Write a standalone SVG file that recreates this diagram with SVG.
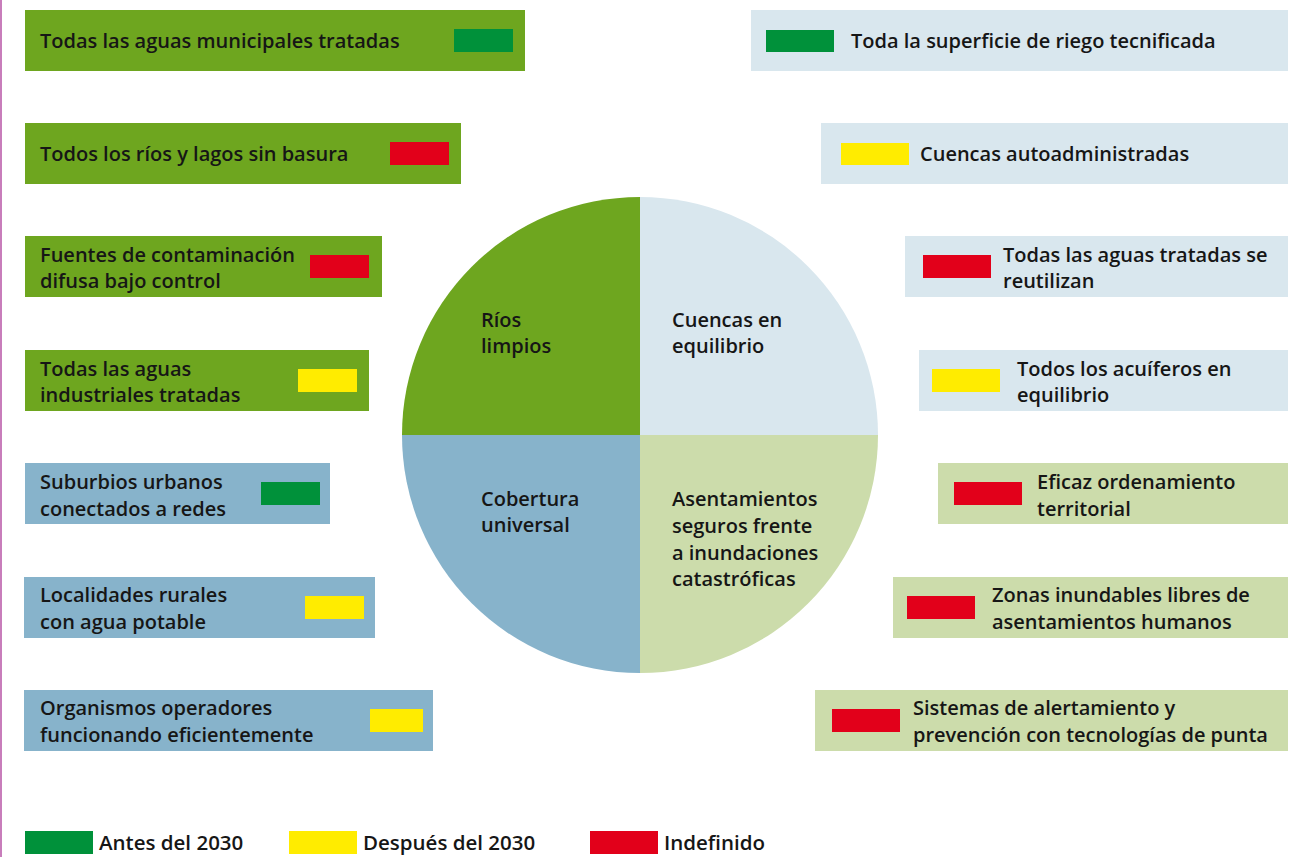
<svg xmlns="http://www.w3.org/2000/svg" width="1294" height="857" viewBox="0 0 1294 857">
<style>
text{font-family:"Open Sans","Noto Sans","Liberation Sans",sans-serif;font-size:20px;font-weight:600;fill:#161616;}
.lt{font-size:20.5px}
.dg{fill:#6EA61F}.lb{fill:#D9E7EE}.sb{fill:#87B3CB}.lg{fill:#CCDCAB}
.G{fill:#00913A}.Y{fill:#FFEC00}.R{fill:#E2001A}
</style>
<rect width="1294" height="857" fill="#fff"/>
<line x1="1" y1="0" x2="1" y2="857" stroke="#C87DBB" stroke-width="2"/>
<g id="pie">
<path class="dg" d="M640 435 L402 435 A238 238 0 0 1 640 197 Z"/>
<path class="lb" d="M640 435 L640 197 A238 238 0 0 1 878 435 Z"/>
<path class="lg" d="M640 435 L878 435 A238 238 0 0 1 640 673 Z"/>
<path class="sb" d="M640 435 L640 673 A238 238 0 0 1 402 435 Z"/>
<text x="481" y="327">Ríos</text><text x="481" y="353">limpios</text>
<text x="672" y="327">Cuencas en</text><text x="672" y="353">equilibrio</text>
<text x="481" y="506">Cobertura</text><text x="481" y="532">universal</text>
<text x="672" y="506">Asentamientos</text><text x="672" y="533">seguros frente</text><text x="672" y="560">a inundaciones</text><text x="672" y="586">catastróficas</text>
</g>
<g id="l1"><rect class="dg" x="25" y="10" width="500" height="61"/><rect class="G" x="454" y="29" width="59" height="23"/><text x="40" y="48">Todas las aguas municipales tratadas</text></g>
<g id="l2"><rect class="dg" x="25" y="123" width="436" height="61"/><rect class="R" x="390" y="142" width="59" height="23"/><text x="40" y="161">Todos los ríos y lagos sin basura</text></g>
<g id="l3"><rect class="dg" x="25" y="236" width="357" height="61"/><rect class="R" x="310" y="255" width="59" height="23"/><text x="40" y="262">Fuentes de contaminación</text><text x="40" y="288">difusa bajo control</text></g>
<g id="l4"><rect class="dg" x="25" y="350" width="344" height="61"/><rect class="Y" x="298" y="369" width="59" height="23"/><text x="40" y="376">Todas las aguas</text><text x="40" y="402">industriales tratadas</text></g>
<g id="l5"><rect class="sb" x="25" y="463" width="305" height="61"/><rect class="G" x="261" y="482" width="59" height="23"/><text x="40" y="489">Suburbios urbanos</text><text x="40" y="516">conectados a redes</text></g>
<g id="l6"><rect class="sb" x="24" y="577" width="351" height="61"/><rect class="Y" x="305" y="596" width="59" height="23"/><text x="40" y="602">Localidades rurales</text><text x="40" y="629">con agua potable</text></g>
<g id="l7"><rect class="sb" x="24" y="690" width="409" height="61"/><rect class="Y" x="370" y="709" width="53" height="23"/><text x="40" y="715">Organismos operadores</text><text x="40" y="742">funcionando eficientemente</text></g>
<g id="r1"><rect class="lb" x="751" y="10" width="537" height="61"/><rect class="G" x="766" y="30" width="68" height="22"/><text x="851" y="48">Toda la superficie de riego tecnificada</text></g>
<g id="r2"><rect class="lb" x="821" y="123" width="467" height="61"/><rect class="Y" x="841" y="143" width="68" height="22"/><text x="920" y="161">Cuencas autoadministradas</text></g>
<g id="r3"><rect class="lb" x="905" y="236" width="383" height="61"/><rect class="R" x="923" y="255" width="68" height="23"/><text x="1003" y="262">Todas las aguas tratadas se</text><text x="1003" y="288">reutilizan</text></g>
<g id="r4"><rect class="lb" x="919" y="350" width="369" height="61"/><rect class="Y" x="932" y="369" width="68" height="23"/><text x="1017" y="376">Todos los acuíferos en</text><text x="1017" y="402">equilibrio</text></g>
<g id="r5"><rect class="lg" x="938" y="463" width="350" height="61"/><rect class="R" x="954" y="482" width="68" height="23"/><text x="1037" y="489">Eficaz ordenamiento</text><text x="1037" y="516">territorial</text></g>
<g id="r6"><rect class="lg" x="893" y="577" width="395" height="61"/><rect class="R" x="907" y="596" width="68" height="23"/><text x="992" y="602">Zonas inundables libres de</text><text x="992" y="629">asentamientos humanos</text></g>
<g id="r7"><rect class="lg" x="815" y="690" width="473" height="61"/><rect class="R" x="832" y="709" width="68" height="23"/><text x="913" y="715">Sistemas de alertamiento y</text><text x="913" y="742">prevención con tecnologías de punta</text></g>
<g id="legend">
<rect class="G" x="25" y="831" width="68" height="23"/><text class="lt" x="99" y="850">Antes del 2030</text>
<rect class="Y" x="289" y="831" width="68" height="23"/><text class="lt" x="363" y="850">Después del 2030</text>
<rect class="R" x="590" y="831" width="68" height="23"/><text class="lt" x="664" y="850">Indefinido</text>
</g>
<g id="connectors"/>
</svg>
